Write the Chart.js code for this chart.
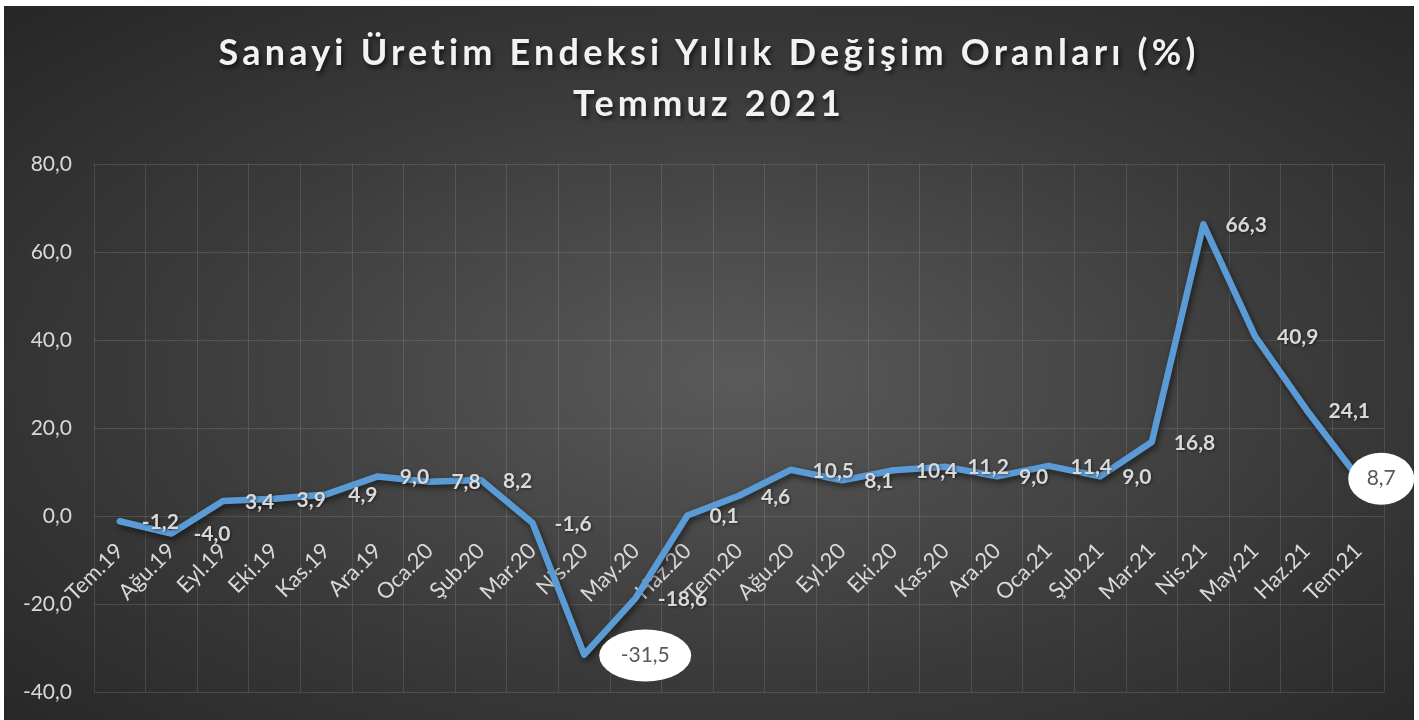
<!DOCTYPE html>
<html lang="tr">
<head>
<meta charset="utf-8">
<title>Sanayi Üretim Endeksi Yıllık Değişim Oranları</title>
<script src="https://cdn.jsdelivr.net/npm/chart.js@4/dist/chart.umd.min.js"></script>
<style>
  html, body { margin: 0; padding: 0; background: #fff; }
  #frame {
    position: absolute; left: 4px; top: 6px; width: 1410px; height: 714px; overflow: hidden;
    background: radial-gradient(ellipse farthest-corner at 52% 52%, #5a5a5a 0%, #3b3b3b 55%, #262626 100%);
  }
  #title {
    position: absolute; left: 0; right: 0; top: 20px;
    text-align: center; color: #f2f2f2;
    font: bold 36px Lato, sans-serif; line-height: 51px; letter-spacing: 4.2px;
    text-shadow: 2px 3px 4px rgba(0, 0, 0, 0.6);
  }
  #chart { position: absolute; left: 0; top: 0; }
</style>
</head>
<body>
<div id="frame">
  <canvas id="chart" width="1410" height="714"></canvas>
  <div id="title">Sanayi Üretim Endeksi Yıllık Değişim Oranları (%)<br>Temmuz 2021</div>
</div>
<script>
const months = ["Tem.19", "Ağu.19", "Eyl.19", "Eki.19", "Kas.19", "Ara.19",
  "Oca.20", "Şub.20", "Mar.20", "Nis.20", "May.20", "Haz.20", "Tem.20", "Ağu.20",
  "Eyl.20", "Eki.20", "Kas.20", "Ara.20", "Oca.21", "Şub.21", "Mar.21", "Nis.21",
  "May.21", "Haz.21", "Tem.21"];
const changes = [-1.2, -4.0, 3.4, 3.9, 4.9, 9.0, 7.8, 8.2, -1.6, -31.5, -18.6, 0.1,
  4.6, 10.5, 8.1, 10.4, 11.2, 9.0, 11.4, 9.0, 16.8, 66.3, 40.9, 24.1, 8.7];
const yTicks = [-40, -20, 0, 20, 40, 60, 80];
// which points get the white bubble label
const bubbled = [9, 24];

const fmt = v => v.toFixed(1).replace('.', ',');
const labelColor = '#d9d9d9';

const lineShadow = {
  id: 'lineShadow',
  beforeDatasetDraw(chart) {
    const ctx = chart.ctx;
    ctx.save();
    ctx.shadowColor = 'rgba(0,0,0,0.55)';
    ctx.shadowBlur = 6;
    ctx.shadowOffsetX = 2;
    ctx.shadowOffsetY = 3;
  },
  afterDatasetDraw(chart) {
    chart.ctx.restore();
  }
};

const valueLabels = {
  id: 'valueLabels',
  afterDatasetsDraw(chart) {
    const ctx = chart.ctx;
    const meta = chart.getDatasetMeta(0);
    ctx.save();
    meta.data.forEach((pt, i) => {
      const txt = fmt(changes[i]);
      if (bubbled.includes(i)) {
        const wide = i === 9;
        const cx = pt.x + (wide ? 61 : 23), cy = pt.y + 1;
        const rx = wide ? 46 : 33, ry = 26;
        ctx.beginPath();
        ctx.ellipse(cx, cy, rx, ry, 0, 0, Math.PI * 2);
        ctx.fillStyle = '#ffffff';
        ctx.fill();
        ctx.font = '21px Lato, sans-serif';
        ctx.fillStyle = '#595959';
        ctx.textAlign = 'center';
        ctx.textBaseline = 'middle';
        ctx.fillText(txt, cx, cy);
      } else {
        ctx.font = 'bold 21px Lato, sans-serif';
        ctx.fillStyle = labelColor;
        ctx.textAlign = 'left';
        ctx.textBaseline = 'middle';
        ctx.shadowColor = 'rgba(0,0,0,0.5)';
        ctx.shadowBlur = 3;
        ctx.shadowOffsetX = 1;
        ctx.shadowOffsetY = 1;
        ctx.fillText(txt, pt.x + 22, pt.y + 1);
        ctx.shadowColor = 'transparent';
      }
    });
    ctx.restore();
  }
};

const ctx = document.getElementById('chart').getContext('2d');
new Chart(ctx, {
  type: 'line',
  data: {
    labels: months,
    datasets: [{
      label: 'Yıllık değişim (%)',
      data: changes,
      borderColor: '#5b9bd5',
      borderWidth: 6.5,
      borderJoinStyle: 'round',
      borderCapStyle: 'round',
      pointRadius: 0,
      tension: 0,
      fill: false
    }]
  },
  options: {
    responsive: false,
    animation: false,
    devicePixelRatio: 1,
    layout: { padding: { top: 158, right: 30, bottom: 28, left: 0 } },
    scales: {
      x: {
        position: { y: 0 },
        offset: true,
        grid: { offset: true, color: 'rgba(255,255,255,0.12)', drawTicks: false },
        border: { display: false },
        ticks: {
          autoSkip: false, minRotation: 45, maxRotation: 45, padding: 22,
          color: labelColor, font: { family: 'Lato', size: 22 }
        }
      },
      y: {
        min: -40,
        max: 80,
        afterFit: s => {
          s.width = 90;
          // tick padding should not push the plot area in from top/bottom
          s.paddingTop = 0;
          s.paddingBottom = 0;
        },
        afterBuildTicks: s => { s.ticks = yTicks.map(v => ({ value: v })); },
        grid: { color: 'rgba(255,255,255,0.12)', drawTicks: false },
        border: { display: false },
        ticks: {
          padding: 22,
          color: labelColor,
          font: { family: 'Lato', size: 21 },
          callback: v => fmt(v)
        }
      }
    },
    plugins: {
      legend: { display: false },
      tooltip: { enabled: false },
      title: { display: false }
    }
  },
  plugins: [lineShadow, valueLabels]
});
</script>
</body>
</html>
